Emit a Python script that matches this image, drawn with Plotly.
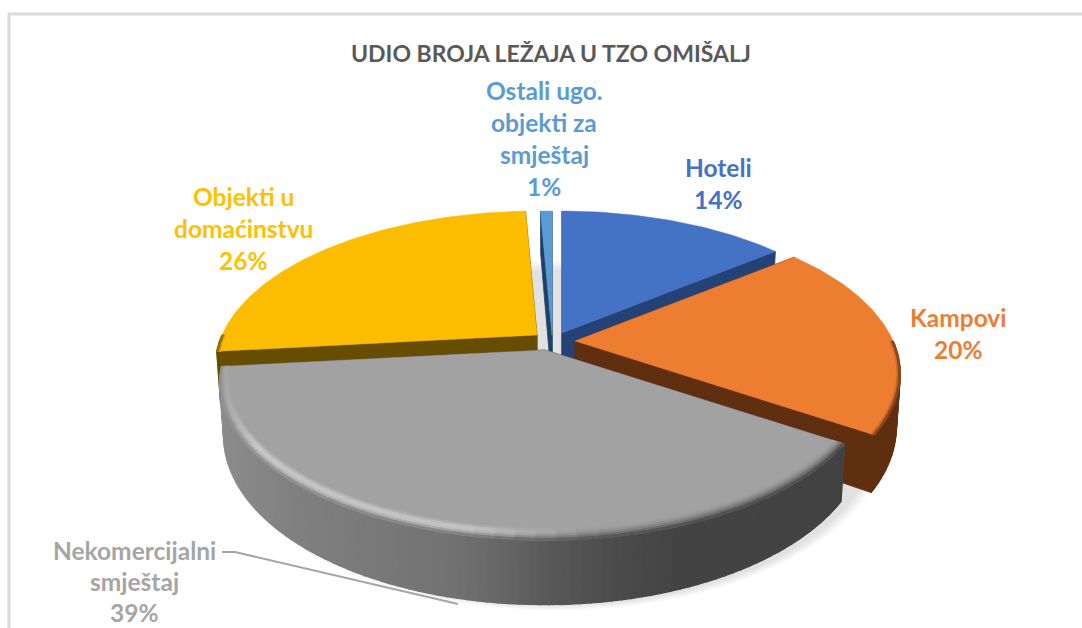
import math
import numpy as np
import plotly.graph_objects as go

# ---- data ----
categories = ["Hoteli", "Kampovi", "Nekomercijalni smještaj", "Objekti u domaćinstvu", "Ostali ugo. objekti za smještaj"]
values = [14.2, 20.1, 39.0, 26.0, 0.7]
title_text = "UDIO BROJA LEŽAJA U TZO OMIŠALJ"
label_lines = [["Hoteli"], ["Kampovi"], ["Nekomercijalni", "smještaj"], ["Objekti u", "domaćinstvu"], ["Ostali ugo.", "objekti za", "smještaj"]]

# ---- styles and geometry ----
top_colors = [(68, 114, 196), (237, 125, 49), (162, 162, 162), (252, 189, 0), (91, 155, 213)]
label_colors = ["#4472C4", "#ED7D31", "#A5A5A5", "#FFC000", "#5B9BD5"]
cut_colors = [(37, 66, 118), (95, 47, 16), (70, 70, 70), (102, 77, 0), (30, 66, 100)]
apexes = [(562, 333), (575, 341), (545, 350), (537, 335), (552, 335)]
scales = [0.98, 1.01, 1.01, 1.0, 1.0]
label_pos = [(718, 167), (958, 317), (134, 550), (243, 196), (544, 90)]
line_steps = [32, 32, 31, 32, 32]
R, H, P, D = 315.0, 149.4, 0.205, 51.0

fig = go.Figure()

def pr(apex, deg, r=1.0, z=0.0):
    a = math.radians(deg)
    u, v = r * math.sin(a), r * math.cos(a)
    s = 1 / (1 + P * v)
    return apex[0] + R * u * s * (1 - 0.012 * z), apex[1] - H * v * s + D * s * z

def poly(pts, color, lw=0.8):
    xs = [p[0] for p in pts] + [pts[0][0]]
    ys = [p[1] for p in pts] + [pts[0][1]]
    fig.add_trace(go.Scatter(x=xs, y=ys, mode="lines", fill="toself", fillcolor=color,
                             line=dict(color=color, width=lw), hoverinfo="skip", showlegend=False))

def rgb(c):
    return "rgb(%d,%d,%d)" % tuple(int(max(0, min(255, k))) for k in c)

def mix(a, b, t):
    return tuple(a[i] * (1 - t) + b[i] * t for i in range(3))

gray_x = [220, 300, 460, 500, 560, 620, 680, 850]
gray_v = [140, 128, 114, 104, 88, 76, 68, 66]

def wall_color(i, x):
    if i == 2:
        g = float(np.interp(x, gray_x, gray_v))
        return (g, g, g)
    return cut_colors[i]

def highlight(i, x):
    if i == 2:
        return float(np.interp(x, [225, 260, 480, 600], [10, 45, 45, 0]))
    return 0.0

# angular spans
edges = np.concatenate([[0.0], np.cumsum(values)]) / sum(values) * 360
spans = [(edges[i], edges[i + 1]) for i in range(len(values))]

# floor shadow
for k in range(6):
    c = (555, 347 + k)
    r = 1.045 - k * 0.008
    poly([pr(c, d, r, 1.0) for d in range(0, 360, 3)], "rgba(0,0,0,0.018)", 0)

def draw_slice(i):
    a0, a1 = spans[i]
    apex = apexes[i]
    sc = scales[i]
    # cut faces
    for ang in (a0, a1):
        poly([pr(apex, ang, 0, 0), pr(apex, ang, sc, 0), pr(apex, ang, sc, 1), pr(apex, ang, 0, 1)], rgb(cut_colors[i]))
    # outer wall
    lo, hi = max(a0, 90), min(a1, 270)
    if hi > lo:
        steps = max(2, int((hi - lo) / 1.5))
        an = np.linspace(lo, hi, steps + 1)
        for j in range(steps):
            p = [pr(apex, an[j], sc, 0), pr(apex, an[j + 1], sc, 0), pr(apex, an[j + 1], sc, 1), pr(apex, an[j], sc, 1)]
            poly(p, rgb(wall_color(i, p[0][0])), 1.4)
    # top face
    arc = np.linspace(a0, a1, max(3, int(a1 - a0) + 2))
    poly([pr(apex, 0, 0)] + [pr(apex, d, sc) for d in arc], rgb(top_colors[i]), 0.5)
    # bevel on the viewer-facing rim
    if hi > lo:
        bands = 6 if i == 2 else 3
        steps = max(2, int((hi - lo) / 3))
        an = np.linspace(lo, hi, steps + 1)

        def rad(deg, b):
            w = (0.018 + 0.032 * abs(math.cos(math.radians(deg)))) if i == 2 else 0.014
            return sc * (1 - w * (1 - b / bands))

        for j in range(steps):
            for b in range(bands):
                p = [pr(apex, an[j], rad(an[j], b)), pr(apex, an[j + 1], rad(an[j + 1], b)),
                     pr(apex, an[j + 1], rad(an[j + 1], b + 1)), pr(apex, an[j], rad(an[j], b + 1))]
                t = (b + 0.5) / bands
                c = mix(top_colors[i], wall_color(i, p[0][0]), t * t)
                h = highlight(i, p[0][0]) * math.sin(math.pi * t)
                poly(p, rgb(tuple(k + h for k in c)), 1.0)

for i in [0, 4, 3, 1, 2]:
    draw_slice(i)

# leader line
fig.add_trace(go.Scatter(x=[222, 235, 458], y=[552, 552, 604], mode="lines",
                         line=dict(color="#A5A5A5", width=2), hoverinfo="skip", showlegend=False))

# labels
ann = [dict(x=551, y=53, text="<b>%s</b>" % title_text, showarrow=False, xref="x", yref="y",
            font=dict(family="Lato", size=23, color="#595959"))]
for i, lines in enumerate(label_lines):
    x, y = label_pos[i]
    for n, line in enumerate(lines + ["%d%%" % round(values[i])]):
        ann.append(dict(x=x, y=y + n * line_steps[i], text="<b>%s</b>" % line, showarrow=False, xref="x", yref="y",
                        font=dict(family="Lato", size=24.5, color=label_colors[i])))

fig.update_layout(
    width=1082, height=628, margin=dict(l=0, r=0, t=0, b=0),
    paper_bgcolor="white", plot_bgcolor="white", showlegend=False,
    xaxis=dict(range=[0, 1082], visible=False, fixedrange=True),
    yaxis=dict(range=[628, 0], visible=False, fixedrange=True),
    annotations=ann,
    shapes=[
        dict(type="line", xref="x", yref="y", x0=8, x1=1082, y0=14, y1=14, line=dict(color="#DADADA", width=3)),
        dict(type="line", xref="x", yref="y", x0=9, x1=9, y0=13, y1=628, line=dict(color="#DADADA", width=3)),
    ],
)
fig.write_html("out.html", config={"displayModeBar": False},
               post_script="document.body.style.margin='0';document.body.style.overflow='hidden';")
